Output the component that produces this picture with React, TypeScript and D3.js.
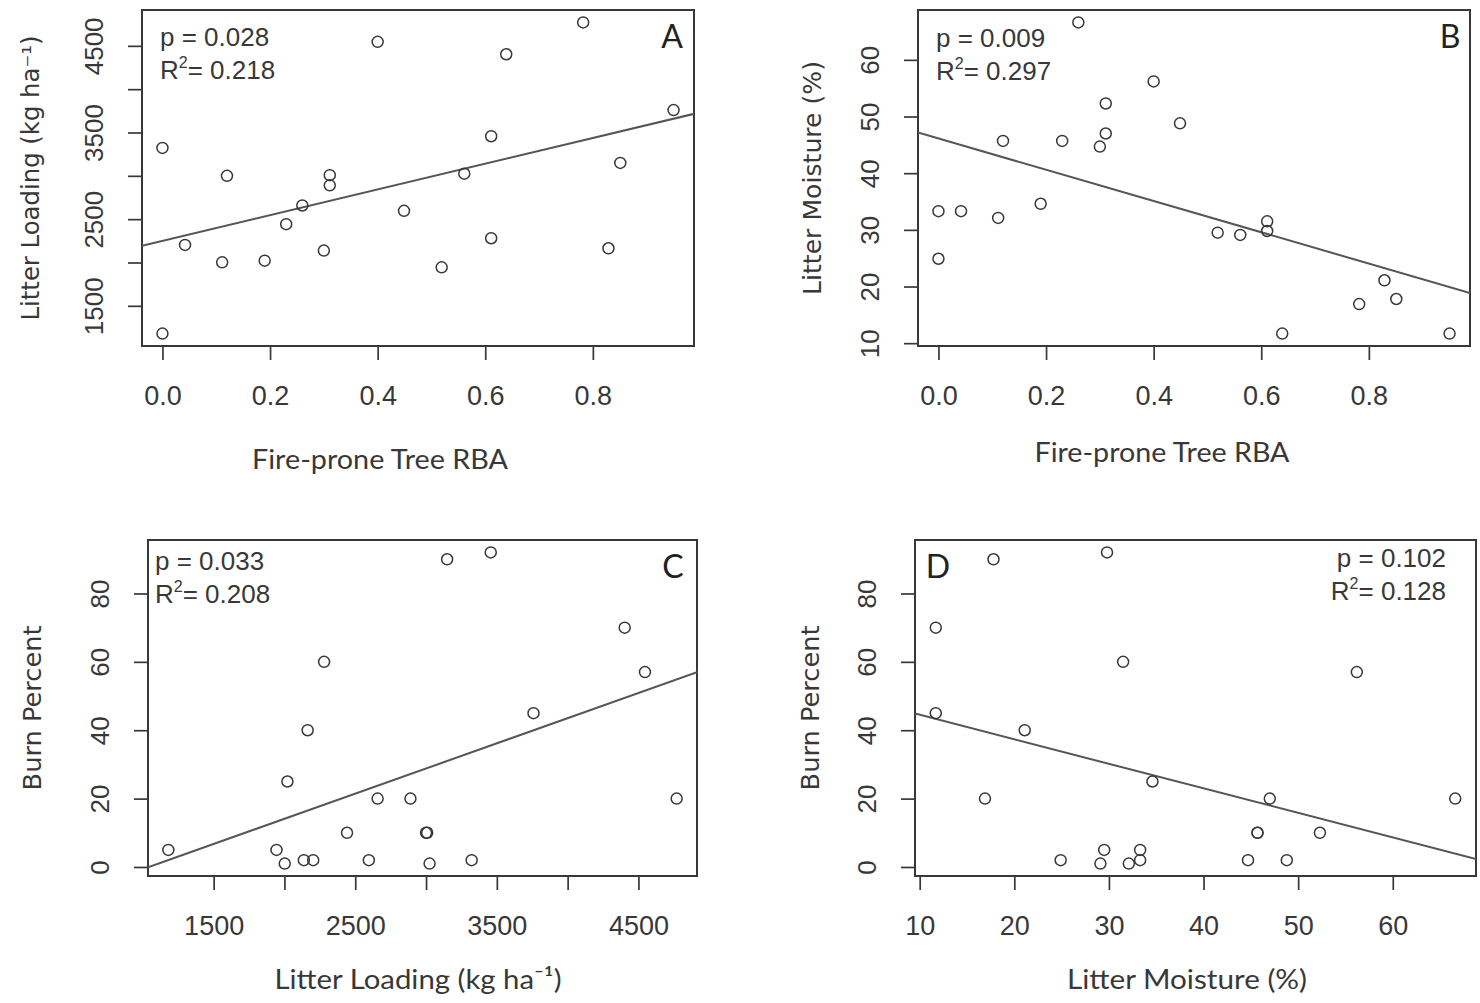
import React, { useEffect, useRef } from "react";
import * as d3 from "d3";

// one entry per plot (22 sites)
const rba = [0, 0, 0.042, 0.111, 0.12, 0.19, 0.23, 0.26, 0.3, 0.311, 0.311, 0.4, 0.449, 0.519, 0.561, 0.611, 0.611, 0.639, 0.782, 0.829, 0.851, 0.95];
const loading = [3322, 1180, 2203, 2002, 3000, 2021, 2442, 2658, 2137, 3008, 2890, 4546, 2596, 1944, 3025, 3457, 2280, 4403, 4770, 2164, 3149, 3759];
const moisture = [24.9, 33.3, 33.3, 32.1, 45.7, 34.6, 45.7, 66.6, 44.7, 52.3, 47.0, 56.2, 48.8, 29.5, 29.1, 29.8, 31.5, 11.7, 16.9, 21.1, 17.8, 11.7];
const burn = [2, 5, 2, 1, 10, 25, 10, 20, 2, 10, 20, 57, 2, 5, 1, 92, 60, 70, 20, 40, 90, 45];

// axis ticks
const rbaTicks = [0, 0.2, 0.4, 0.6, 0.8];
const loadingTicks = [1500, 2000, 2500, 3000, 3500, 4000, 4500];
const loadingLabels = [1500, 2500, 3500, 4500];
const moistureTicks = [10, 20, 30, 40, 50, 60];
const burnTicks = [0, 20, 40, 60, 80];

// p / R2 text
const pValues = ["0.028", "0.009", "0.033", "0.102"];
const r2Values = ["0.218", "0.297", "0.208", "0.128"];
const letters = ["A", "B", "C", "D"];

const W = 1480;
const H = 1003;
const ink = "#383838";
const tickFont = "'Liberation Sans', Arial, sans-serif";
const xTitleFont = "Lato, 'Open Sans', sans-serif";
const yTitleFont = "'DejaVu Sans', Verdana, sans-serif";

const panels = [
  {
    x: rba, y: loading,
    box: { l: 142, r: 694, t: 10, b: 346 },
    xTicks: rbaTicks, xLabels: rbaTicks, xFmt: d3.format(".1f"),
    yTicks: loadingTicks, yLabels: loadingLabels,
    xTitle: "Fire-prone Tree RBA", xTitleX: 380, xTitleY: 469, xTitleLen: 256,
    yTitle: "Litter Loading (kg ha\u207B\u00B9)", yTitleX: 30, yTitleLen: 285,
    stats: { x: 160, y: 46, anchor: "start" }, letter: { x: 672, y: 48 },
  },
  {
    x: rba, y: moisture,
    box: { l: 918, r: 1470, t: 10, b: 346 },
    xTicks: rbaTicks, xLabels: rbaTicks, xFmt: d3.format(".1f"),
    yTicks: moistureTicks, yLabels: moistureTicks,
    xTitle: "Fire-prone Tree RBA", xTitleX: 1162, xTitleY: 462, xTitleLen: 255,
    yTitle: "Litter Moisture (%)", yTitleX: 812, yTitleLen: 234,
    stats: { x: 936, y: 47, anchor: "start" }, letter: { x: 1450, y: 48 },
  },
  {
    x: loading, y: burn,
    box: { l: 148, r: 697, t: 540, b: 876 },
    xTicks: loadingTicks, xLabels: loadingLabels, xFmt: d3.format("d"),
    yTicks: burnTicks, yLabels: burnTicks,
    xTitle: "Litter Loading (kg ha\u207B\u00B9)", xTitleX: 418, xTitleY: 989, xTitleLen: 287,
    yTitle: "Burn Percent", yTitleX: 32, yTitleLen: 165,
    stats: { x: 155, y: 570, anchor: "start" }, letter: { x: 673, y: 578 },
  },
  {
    x: moisture, y: burn,
    box: { l: 915, r: 1476, t: 540, b: 876 },
    xTicks: moistureTicks, xLabels: moistureTicks, xFmt: d3.format("d"),
    yTicks: burnTicks, yLabels: burnTicks,
    xTitle: "Litter Moisture (%)", xTitleX: 1187, xTitleY: 989, xTitleLen: 240,
    yTitle: "Burn Percent", yTitleX: 810, yTitleLen: 165,
    stats: { x: 1446, y: 567, anchor: "end" }, letter: { x: 938, y: 578 },
  },
];

// R style: data range widened by 4% on each side
function padded(v: number[]): [number, number] {
  const [lo, hi] = d3.extent(v) as [number, number];
  const s = (hi - lo) * 0.04;
  return [lo - s, hi + s];
}

// least squares fit, same as lm(y ~ x)
function fit(x: number[], y: number[]) {
  const mx = d3.mean(x) as number;
  const my = d3.mean(y) as number;
  let sxy = 0, sxx = 0;
  x.forEach((v, i) => {
    sxy += (v - mx) * (y[i] - my);
    sxx += (v - mx) * (v - mx);
  });
  const slope = sxy / sxx;
  return { slope, icpt: my - slope * mx };
}

function drawPanel(svg: any, p: any, i: number) {
  const { box } = p;
  const xs = d3.scaleLinear().domain(padded(p.x)).range([box.l, box.r]);
  const ys = d3.scaleLinear().domain(padded(p.y)).range([box.b, box.t]);
  const g = svg.append("g");

  // x axis
  const xa = g.append("g")
    .attr("transform", "translate(0," + box.b + ")")
    .call(d3.axisBottom(xs).tickValues(p.xTicks).tickSize(14)
      .tickFormat((d: any) => (p.xLabels.includes(d) ? p.xFmt(d) : "")));
  xa.select(".domain").remove();
  xa.selectAll("line").attr("stroke", ink).attr("stroke-width", 1.7);
  xa.selectAll("text").attr("y", 59).attr("dy", 0)
    .attr("font-family", tickFont).attr("font-size", 27).attr("fill", ink);

  // y axis, labels turned like R's las=0
  const ya = g.append("g")
    .attr("transform", "translate(" + box.l + ",0)")
    .call(d3.axisLeft(ys).tickValues(p.yTicks).tickSize(14)
      .tickFormat((d: any) => (p.yLabels.includes(d) ? String(d) : "")));
  ya.select(".domain").remove();
  ya.selectAll("line").attr("stroke", ink).attr("stroke-width", 1.7);
  ya.selectAll("text")
    .attr("x", null).attr("dy", 0)
    .attr("transform", "translate(-39,0) rotate(-90)")
    .attr("text-anchor", "middle")
    .attr("font-family", tickFont).attr("font-size", 26).attr("fill", ink);
  xa.attr("font-size", null).attr("font-family", null);
  ya.attr("font-size", null).attr("font-family", null);

  // box
  g.append("rect")
    .attr("x", box.l).attr("y", box.t)
    .attr("width", box.r - box.l).attr("height", box.b - box.t)
    .attr("fill", "none").attr("stroke", ink).attr("stroke-width", 2);

  // regression line, clipped to the plot region
  const clipId = "clip" + i;
  g.append("clipPath").attr("id", clipId)
    .append("rect")
    .attr("x", box.l).attr("y", box.t)
    .attr("width", box.r - box.l).attr("height", box.b - box.t);
  const f = fit(p.x, p.y);
  const [x0, x1] = xs.domain();
  g.append("line")
    .attr("clip-path", "url(#" + clipId + ")")
    .attr("x1", xs(x0)).attr("y1", ys(f.icpt + f.slope * x0))
    .attr("x2", xs(x1)).attr("y2", ys(f.icpt + f.slope * x1))
    .attr("stroke", "#555").attr("stroke-width", 2);

  // points
  g.selectAll("circle.pt")
    .data(p.x.map((v: number, k: number) => [v, p.y[k]]))
    .enter().append("circle")
    .attr("class", "pt")
    .attr("cx", (d: number[]) => xs(d[0]))
    .attr("cy", (d: number[]) => ys(d[1]))
    .attr("r", 5.5)
    .attr("fill", "none").attr("stroke", ink).attr("stroke-width", 1.5);

  // titles
  g.append("text")
    .attr("x", p.xTitleX).attr("y", p.xTitleY)
    .attr("text-anchor", "middle")
    .attr("font-family", xTitleFont).attr("font-size", 27).attr("fill", ink)
    .attr("textLength", p.xTitleLen).attr("lengthAdjust", "spacingAndGlyphs")
    .text(p.xTitle);
  g.append("text")
    .attr("transform", "translate(" + (p.yTitleX + 9) + "," + (box.t + box.b) / 2 + ") rotate(-90)")
    .attr("text-anchor", "middle")
    .attr("font-family", yTitleFont).attr("font-size", 24).attr("fill", ink)
    .attr("textLength", p.yTitleLen).attr("lengthAdjust", "spacingAndGlyphs")
    .text(p.yTitle);

  // stats
  const st = g.append("g").attr("font-family", tickFont).attr("font-size", 26)
    .attr("fill", ink).attr("text-anchor", p.stats.anchor);
  st.append("text").attr("x", p.stats.x).attr("y", p.stats.y).text("p = " + pValues[i]);
  const r2 = st.append("text").attr("x", p.stats.x).attr("y", p.stats.y + 33);
  r2.append("tspan").text("R");
  r2.append("tspan").attr("dy", -11).attr("font-size", 16).text("2");
  r2.append("tspan").attr("dy", 11).text("= " + r2Values[i]);

  // panel letter
  g.append("text")
    .attr("x", p.letter.x).attr("y", p.letter.y)
    .attr("text-anchor", "middle")
    .attr("font-family", xTitleFont).attr("font-size", 32).attr("fill", "#222")
    .text(letters[i]);
}

export default function App() {
  const chartRef = useRef<SVGSVGElement>(null);

  useEffect(() => {
    const svg = d3.select(chartRef.current);
    svg.selectAll("*").remove();
    panels.forEach((p, i) => drawPanel(svg, p, i));
  }, []);

  return (
    <svg
      ref={chartRef}
      width={W}
      height={H}
      style={{ position: "absolute", left: 0, top: 0, background: "#fff" }}
    />
  );
}
